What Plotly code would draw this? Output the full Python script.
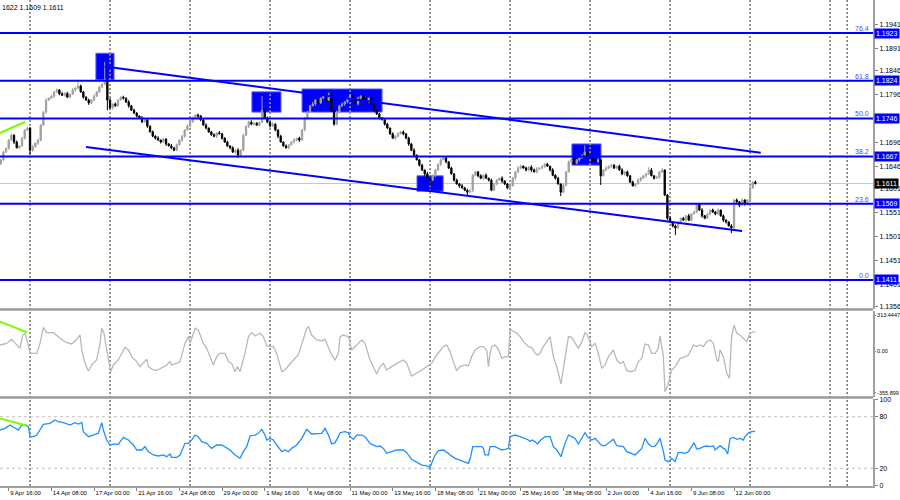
import plotly.graph_objects as go

# ---------------- data ----------------
# H4 closes, last four digits of price (1.xxxx), bars -3 .. 280
closes = [1660, 1676, 1684, 1701,
          1711, 1697, 1685, 1689, 1705, 1722, 1726, 1680, 1687, 1695, 1701,
          1732, 1759, 1784, 1788, 1792, 1801, 1805, 1797, 1794, 1798, 1790, 1796,
          1805, 1809, 1813, 1801, 1790, 1784, 1778, 1784, 1792, 1801, 1811, 1817,
          1826, 1784, 1768, 1776, 1772, 1784, 1790, 1788, 1780, 1772, 1763,
          1757, 1751, 1747, 1739, 1743, 1730, 1718, 1709, 1705, 1701, 1697, 1703,
          1693, 1689, 1685, 1680, 1691, 1701, 1709, 1722, 1730, 1739, 1747, 1753,
          1751, 1743, 1732, 1726, 1718, 1712, 1709, 1716, 1714, 1705, 1697, 1689,
          1685, 1676, 1680, 1670, 1680, 1711, 1730, 1738, 1734, 1736, 1732, 1738,
          1763, 1747, 1738, 1730, 1734, 1722, 1709, 1697, 1689, 1685, 1691,
          1697, 1701, 1705, 1701, 1722, 1747, 1759, 1772, 1776, 1784, 1778, 1788,
          1792, 1784, 1796, 1763, 1734, 1759, 1772, 1776, 1780, 1788, 1792, 1784,
          1776, 1788, 1792, 1784, 1780, 1788, 1776, 1763, 1755, 1747, 1743, 1734,
          1726, 1714, 1705, 1709, 1714, 1718, 1714, 1705, 1693, 1680, 1670, 1660,
          1649, 1639, 1631, 1622, 1618, 1627, 1639, 1651, 1660, 1664, 1656, 1643,
          1631, 1618, 1610, 1606, 1602, 1597, 1593, 1597, 1628, 1635, 1627, 1622,
          1628, 1622, 1618, 1597, 1610, 1618, 1622, 1616, 1610, 1602, 1606, 1622,
          1635, 1643, 1647, 1643, 1639, 1645, 1639, 1635, 1641, 1643, 1647, 1651,
          1647, 1639, 1628, 1622, 1610, 1593, 1608, 1635, 1656, 1660, 1653, 1660,
          1664, 1670, 1676, 1668, 1664, 1660, 1656, 1660, 1627, 1639, 1643, 1647,
          1649, 1643, 1647, 1639, 1631, 1635, 1627, 1614, 1606, 1610, 1618, 1622,
          1627, 1631, 1639, 1627, 1622, 1624, 1635, 1639, 1587, 1539,
          1531, 1523, 1519, 1531, 1539, 1535, 1544, 1535, 1548, 1552, 1568, 1556,
          1544, 1539, 1548, 1556, 1552, 1548, 1556, 1544, 1535, 1531, 1523, 1519,
          1577, 1573, 1566, 1577, 1568, 1577, 1602, 1614, 1611]
first_open = 1652
first_bar = -3

wick_up = "".join([
    "2312423132", "3241322413", "1324231422", "3123241312", "2413223142",
    "3214231324", "1322413231", "4231322412", "3142231324", "2313422131",
    "3242131322", "4132231423", "1324213232", "2431322413", "3122431324",
    "2313241231", "4232132413", "1324231322", "3241322142", "2132431324",
    "3412231423", "1323241322", "4231322413", "2134231324", "3122413231",
    "2413223142", "3214231324", "1322413231", "2313"])
wick_dn = "".join([
    "3213241223", "2132431322", "4231322143", "2314231322", "1342213241",
    "2313241232", "3241322143", "1322431322", "2413223142", "3124231322",
    "2313412231", "3241322142", "2132431324", "3212341322", "4231322142",
    "1324231324", "2313241322", "3142231423", "2413223142", "3214231324",
    "1322413231", "4231322412", "3142231324", "2313422131", "3242131322",
    "4132231423", "1324213232", "2431322413", "3122"])
high_spikes = {26: 1826, 36: 1863, 95: 1792, 216: 1690, 240: 1645, 245: 1643}
low_spikes = {8: 1670, 37: 1763, 86: 1664, 158: 1606, 172: 1587, 207: 1585,
              222: 1608, 250: 1504, 271: 1508}

date_labels = ['9 Apr 16:00', '14 Apr 08:00', '17 Apr 00:00', '21 Apr 16:00',
               '24 Apr 08:00', '29 Apr 00:00', '1 May 16:00', '6 May 08:00',
               '11 May 00:00', '13 May 16:00', '18 May 08:00', '21 May 00:00',
               '25 May 16:00', '28 May 08:00', '2 Jun 00:00', '4 Jun 16:00',
               '9 Jun 08:00', '12 Jun 00:00']
label_bars = [16 * k for k in range(len(date_labels))]

fib_levels = [1.1923, 1.1824, 1.1746, 1.1667, 1.1569, 1.1411]
fib_names = ['76.4', '61.8', '50.0', '38.2', '23.6', '0.0']
last_price = 1.1611

price_ticks = [1.1941, 1.1891, 1.1846, 1.1796, 1.1696, 1.1646, 1.1601,
               1.1551, 1.1501, 1.1451, 1.1401, 1.1356]

upper_bars = [36, 282]
upper_vals = [1.18535, 1.16748]
lower_bars = [29, 275]
lower_vals = [1.16867, 1.15125]
green_bars = [-3.3, 6.1]
green_price = [1.17157, 1.17385]
green_cci_bars = [-3.3, 6.9]
green_cci = [256, 165]
green_rsi_bars = [-3.3, 6.9]
green_rsi = [78.1, 69.5]

box_x0 = [32.7, 91.2, 110.0, 153.1, 211.2]
box_x1 = [39.5, 102.1, 140.0, 162.9, 222.1]
box_lo = [1.1826, 1.1759, 1.1759, 1.1595, 1.1649]
box_hi = [1.1881, 1.1801, 1.1807, 1.1627, 1.1693]

cci_bar = [-3.25, -0.75, 1.1, 2.4, 4.25, 5.25, 6.1, 7.0, 8.0, 10.5, 11.75, 13.0,
           14.25, 16.75, 19.25, 21.75, 23.6, 25.5, 26.75, 27.4, 28.6, 29.9, 31.1,
           33.0, 34.25, 34.9, 35.75, 36.75, 37.75, 38.25, 39.25, 41.1, 43.6, 44.9,
           46.1, 48.0, 49.25, 51.1, 51.75, 52.4, 54.25, 55.5, 58.0, 59.25, 60.5,
           61.1, 63.0, 64.25, 66.1, 67.4, 68.0, 69.9, 71.1, 73.0, 74.25, 76.1,
           76.75, 78.0, 79.25, 81.1, 82.4, 83.6, 84.9, 85.75, 86.75, 88.6, 89.9,
           91.1, 92.4, 94.25, 95.5, 96.75, 98.0, 99.25, 100.5, 102.4, 103.6, 105.5,
           106.75, 108.6, 109.9, 111.75, 112.4, 113.6, 115.5, 117.4, 118.6, 119.9,
           121.1, 122.4, 123.6, 124.25, 125.5, 127.4, 128.6, 130.5, 132.4, 133.6,
           135.5, 138.0, 139.25, 140.5, 141.75, 143.6, 145.5, 148.0, 149.25, 151.1,
           153.0, 154.9, 156.75, 158.6, 160.5, 163.0, 164.25, 165.5, 166.75, 168.0,
           169.25, 171.1, 172.4, 173.6, 174.9, 176.75, 178.0, 179.25, 179.9, 180.5,
           181.1, 182.4, 183.6, 184.9, 186.1, 187.4, 188.0, 189.25, 190.5, 191.75,
           193.0, 194.9, 196.1, 197.4, 198.25, 199.25, 200.5, 201.75, 203.0, 204.25,
           205.5, 207.1, 208.6, 209.9, 211.1, 212.4, 213.6, 214.9, 216.1, 217.0,
           218.0, 218.6, 219.9, 221.1, 222.4, 223.6, 224.9, 226.75, 228.0, 229.25,
           230.5, 231.75, 233.6, 234.9, 236.1, 237.4, 238.6, 239.9, 241.1, 242.4,
           243.6, 244.25, 245.5, 246.1, 247.4, 248.6, 249.9, 251.75, 253.0, 254.9,
           256.75, 258.0, 259.25, 260.5, 261.75, 263.0, 264.25, 265.5, 266.1,
           266.75, 268.0, 269.25, 270.25, 271.1, 272.0, 273.0, 274.25, 275.5,
           276.75, 278.0, 279.9]
cci_val = [55, 69, 104, 69, 26, 141, 156, 84, -17, -17, 69, 207,
           161, 161, 113, 75, 64, 104, 141, 12, -103, -169, -117,
           -74, 69, 199, 156, 12, -117, -175, -117, -74, 35, 12,
           -45, -88, -131, -88, -68, -131, -160, -166, -131, -117, -88,
           -117, -103, -88, 69, 127, 69, 199, 184, 69, 26, -74,
           -117, -45, -17, -17, -88, -103, -175, -131, -175, -17, 127,
           161, 133, 156, 127, 47, 41, 41, -17, -175, -160, -103,
           -74, -31, 69, 199, 213, 141, 98, 92, 104, 41,
           -31, -74, -17, 127, 141, 127, 12, 55, 98, 69,
           -74, -195, -131, -103, -160, -131, -103, -74, -103, -212,
           -189, -160, -131, -103, -31, 41, 55, -2, -88, -166,
           -131, -117, -126, -45, 12, 41, 41, 12, -131, -17,
           41, 55, 18, -60, -45, -45, 190, 170, 156, 127,
           84, 41, 35, -17, -31, -17, 41, 84, 127, -45,
           -131, -281, -74, 127, 121, 69, 26, 84, 161, 141,
           69, 41, 69, -17, -146, -117, -45, 12, -74, -103,
           -88, -166, -175, -160, -88, -60, 64, 55, -17, -17,
           26, 133, -45, -347, -275, -160, -131, -60, -54, -31,
           55, 41, 55, 41, 84, 98, 69, -74, -88,
           12, -45, -189, -232, 127, 227, 156, 141, 113,
           84, 161, 170]

rsi_bar = [-3.25, -1.4, 0.5, 2.4, 3.6, 4.9, 6.1, 7.4, 8.0, 9.25, 10.5, 13.0, 15.5,
           17.4, 18.6, 20.5, 23.0, 24.9, 26.1, 27.4, 28.0, 29.9, 31.75, 33.6, 34.9,
           35.5, 36.75, 38.0, 39.9, 41.1, 43.0, 44.9, 46.75, 48.0, 49.9, 51.1, 52.4,
           54.25, 56.1, 58.0, 59.25, 60.5, 61.1, 63.0, 64.25, 66.1, 67.4, 68.6,
           69.9, 71.1, 72.4, 74.25, 76.1, 78.0, 79.9, 81.75, 83.0, 84.9, 86.75,
           88.0, 89.25, 90.5, 92.4, 93.6, 94.9, 96.1, 96.75, 98.0, 99.25, 100.5,
           102.4, 103.6, 104.9, 106.1, 108.0, 109.9, 111.75, 113.6, 115.5, 117.4,
           118.6, 119.9, 121.1, 122.4, 123.6, 124.25, 126.1, 127.4, 128.0, 129.25,
           130.5, 132.4, 133.6, 135.5, 138.0, 139.25, 140.5, 141.75, 143.6, 145.5,
           148.0, 149.25, 151.1, 153.0, 154.9, 156.75, 158.0, 158.6, 159.9, 161.1,
           163.0, 164.9, 165.5, 167.4, 169.25, 171.1, 172.4, 173.25, 174.0, 175.5,
           177.4, 178.0, 178.6, 179.9, 180.5, 182.4, 183.6, 184.9, 186.1, 187.4,
           188.0, 189.9, 191.75, 193.6, 194.9, 195.5, 196.1, 197.4, 198.25, 199.5,
           201.1, 203.0, 204.25, 205.5, 207.1, 208.6, 209.9, 211.1, 212.4, 213.6,
           214.9, 216.1, 217.0, 218.0, 218.6, 219.9, 221.1, 222.4, 223.6, 224.9,
           226.75, 228.0, 229.25, 230.5, 231.75, 233.6, 234.9, 236.1, 237.4, 238.6,
           239.9, 241.1, 242.4, 243.6, 244.25, 245.5, 246.1, 247.4, 248.6, 249.9,
           251.1, 252.4, 253.6, 254.9, 256.1, 257.0, 258.0, 259.25, 260.5, 261.75,
           263.0, 264.25, 264.9, 266.1, 266.75, 268.0, 268.6, 269.6, 270.5, 271.75,
           273.0, 274.25, 275.5, 276.1, 277.4, 278.6, 279.9]
rsi_val = [64.5, 66.5, 70.3, 66.5, 64.5, 70.3, 71.1, 68.4, 56.8, 56.8, 58.7, 71.1, 72.3,
           76.2, 74.2, 73.1, 70.3, 73.1, 71.5, 73.4, 62.6, 56.8, 58.7, 60.7, 73.1,
           64.5, 52.9, 47.1, 48.3, 47.9, 56.0, 52.9, 47.1, 41.3, 41.3, 45.2, 39.3,
           35.5, 34.3, 35.5, 33.5, 36.6, 32.8, 32.8, 35.5, 49.0, 49.0, 52.9,
           58.7, 56.8, 51.0, 49.0, 43.2, 47.1, 47.1, 43.2, 41.3, 35.5, 31.6,
           39.3, 45.2, 57.6, 58.7, 60.7, 65.3, 58.7, 52.9, 54.8, 52.9, 47.1,
           39.3, 41.3, 39.3, 43.2, 47.1, 54.8, 65.3, 59.9, 60.7, 60.7,
           66.5, 58.7, 48.3, 49.8, 56.8, 61.4, 62.6, 61.4, 56.8, 53.7,
           58.7, 58.7, 56.8, 49.0, 45.2, 45.9, 43.2, 37.4, 39.3, 41.3,
           41.3, 38.2, 30.4, 26.6, 23.8, 22.7, 21.1, 25.8, 35.5, 40.5,
           41.3, 37.4, 35.5, 31.6, 29.7, 27.7, 25.8, 33.5, 45.2, 45.2,
           45.2, 43.2, 35.5, 35.5, 45.2, 45.2, 43.2, 41.3, 42.1, 43.2,
           56.8, 58.7, 56.8, 54.8, 52.9, 51.0, 52.9, 51.0, 48.3, 52.9,
           56.8, 56.8, 45.2, 41.3, 33.5, 49.0, 58.7, 56.8, 54.8, 48.3,
           54.8, 61.4, 56.8, 53.7, 52.9, 54.8, 51.0, 46.3, 46.3, 49.0,
           53.7, 46.3, 45.9, 45.2, 39.3, 36.6, 35.5, 39.3, 43.2, 54.8,
           48.3, 45.2, 45.9, 51.0, 54.8, 39.3, 29.7, 27.7, 31.6, 27.7,
           38.2, 38.2, 37.4, 39.3, 45.2, 49.8, 42.4, 43.2, 45.2, 45.9,
           45.2, 46.3, 41.3, 45.2, 46.3, 43.2, 42.4, 36.6, 54.8, 56.0,
           53.7, 54.8, 52.9, 56.8, 61.4, 62.6, 63.0]

cci_ticks = [313.4447, 0.0, -355.899]
cci_ticktext = ['313.4447', '0.00', '-355.899']
rsi_ticks = [100, 80, 20, 0]

grid_bars = [8 + 30 * k for k in range(25)] + [314.4]

# ---------------- build candles ----------------
n = min(len(closes), len(wick_up), len(wick_dn))
bars, o_l, h_l, l_l, c_l = [], [], [], [], []
prev = first_open
for i in range(n):
    b = first_bar + i
    c = closes[i]
    o = prev
    h = max(o, c) + int(wick_up[i])
    lo = min(o, c) - int(wick_dn[i])
    if b in high_spikes:
        h = max(h, high_spikes[b])
    if b in low_spikes:
        lo = min(lo, low_spikes[b])
    bars.append(b)
    o_l.append(1 + o / 10000)
    h_l.append(1 + h / 10000)
    l_l.append(1 + lo / 10000)
    c_l.append(1 + c / 10000)
    prev = c

BLUE = '#0000ff'
FONT = 'Liberation Sans'

fig = go.Figure()

fig.add_trace(go.Candlestick(
    x=bars, open=o_l, high=h_l, low=l_l, close=c_l,
    increasing=dict(line=dict(color='#a0a0a0', width=1), fillcolor='#a0a0a0'),
    decreasing=dict(line=dict(color='#000000', width=1), fillcolor='#000000'),
    whiskerwidth=0, showlegend=False, hoverinfo='skip', xaxis='x', yaxis='y'))

for xs, ys in ((upper_bars, upper_vals), (lower_bars, lower_vals)):
    fig.add_trace(go.Scatter(x=xs, y=ys, mode='lines', line=dict(color=BLUE, width=2),
                             showlegend=False, hoverinfo='skip', yaxis='y'))
fig.add_trace(go.Scatter(x=green_bars, y=green_price, mode='lines',
                         line=dict(color='#7cfc00', width=2), showlegend=False, yaxis='y'))

fig.add_trace(go.Scatter(x=cci_bar, y=cci_val, mode='lines',
                         line=dict(color='#b8b8b8', width=1.3), showlegend=False, yaxis='y2'))
fig.add_trace(go.Scatter(x=green_cci_bars, y=green_cci, mode='lines',
                         line=dict(color='#7cfc00', width=2), showlegend=False, yaxis='y2'))
fig.add_trace(go.Scatter(x=rsi_bar, y=rsi_val, mode='lines',
                         line=dict(color='#1e90ff', width=1.3), showlegend=False, yaxis='y3'))
fig.add_trace(go.Scatter(x=green_rsi_bars, y=green_rsi, mode='lines',
                         line=dict(color='#7cfc00', width=2), showlegend=False, yaxis='y3'))

shapes = []
# blue boxes (background)
for x0, x1, lo, hi in zip(box_x0, box_x1, box_lo, box_hi):
    shapes.append(dict(type='rect', xref='x', yref='y', x0=x0, x1=x1, y0=lo, y1=hi,
                       fillcolor=BLUE, line=dict(color='#6060ff', width=1), layer='below'))
# vertical dotted grid
for g in grid_bars:
    shapes.append(dict(type='line', xref='x', yref='paper', x0=g, x1=g, y0=0, y1=1,
                       line=dict(color='#303030', width=1, dash='2px,2px'), layer='below'))
# yellow grid segments inside boxes
for x0, x1, lo, hi in zip(box_x0, box_x1, box_lo, box_hi):
    for g in grid_bars:
        if x0 < g < x1:
            shapes.append(dict(type='line', xref='x', yref='y', x0=g, x1=g, y0=lo, y1=hi,
                               line=dict(color='#ffff00', width=1, dash='2px,2px'), layer='below'))
# current price line
shapes.append(dict(type='line', xref='paper', yref='y', x0=0, x1=1, y0=last_price, y1=last_price,
                   line=dict(color='#c8c8c8', width=1), layer='below'))
# fibo levels
for lv in fib_levels:
    shapes.append(dict(type='line', xref='paper', yref='y', x0=0, x1=1, y0=lv, y1=lv,
                       line=dict(color=BLUE, width=2), layer='above'))
# RSI 80/20
for lv in (80, 20):
    shapes.append(dict(type='line', xref='paper', yref='y3', x0=0, x1=1, y0=lv, y1=lv,
                       line=dict(color='#c0c0c0', width=1, dash='3px,3px'), layer='below'))
# panel separators
H = 486.0
for ypix in (309.5, 397.5):
    yp = 1 - ypix / H
    shapes.append(dict(type='line', xref='paper', yref='paper', x0=0, x1=1, y0=yp, y1=yp,
                       line=dict(color='#9a9a9a', width=2.5), layer='above'))

annotations = []
for lv, nm in zip(fib_levels, fib_names):
    annotations.append(dict(xref='paper', yref='y', x=0.998, y=lv, text=nm, showarrow=False,
                            xanchor='right', yanchor='bottom', yshift=-1,
                            font=dict(family=FONT, size=7, color='#4848ff')))
    annotations.append(dict(xref='paper', yref='y', x=1, y=lv, text='%.4f' % lv, showarrow=False,
                            xanchor='left', yanchor='middle', xshift=1, bgcolor=BLUE, borderpad=1,
                            font=dict(family=FONT, size=7, color='#ffffff')))
annotations.append(dict(xref='paper', yref='y', x=1, y=last_price, text='%.4f' % last_price,
                        showarrow=False, xanchor='left', yanchor='middle', xshift=1,
                        bgcolor='#000000', borderpad=1,
                        font=dict(family=FONT, size=7, color='#ffffff')))
annotations.append(dict(xref='paper', yref='paper', x=0, y=1, text='1622 1.1609 1.1611',
                        showarrow=False, xanchor='left', yanchor='top', yshift=-2,
                        font=dict(family=FONT, size=7, color='#000000')))

axis_common = dict(showgrid=False, zeroline=False, showline=True, linecolor='#a0a0a0',
                   linewidth=2, ticks='outside', tickcolor='#808080',
                   side='right', anchor='x', fixedrange=True, automargin=False)

fig.update_layout(
    width=900, height=500,
    margin=dict(l=0, r=27, t=0, b=14, autoexpand=False),
    paper_bgcolor='#ffffff', plot_bgcolor='#ffffff',
    showlegend=False,
    shapes=shapes, annotations=annotations,
    xaxis=dict(range=[-3.2625, 324.1], domain=[0, 1], anchor='y3',
               tickvals=label_bars, ticktext=date_labels, ticklabelposition='outside right',
               tickangle=0, automargin=False,
               ticks='outside', ticklen=3, tickcolor='#808080',
               tickfont=dict(family=FONT, size=6, color='#000000'),
               showgrid=False, zeroline=False, showline=True, linecolor='#a0a0a0', linewidth=2,
               rangeslider=dict(visible=False), fixedrange=True),
    yaxis=dict(domain=[1 - 308.5 / H, 1], range=[1.13519, 1.19914], ticklen=3,
               tickvals=price_ticks, ticktext=['%.4f' % t for t in price_ticks],
               tickfont=dict(family=FONT, size=7, color='#000000'), **axis_common),
    yaxis2=dict(domain=[1 - 396.5 / H, 1 - 310.5 / H], range=[-388.6, 352.2], ticklen=1,
                tickvals=cci_ticks, ticktext=cci_ticktext,
                tickfont=dict(family=FONT, size=5.5, color='#000000'), **axis_common),
    yaxis3=dict(domain=[0, 1 - 398.5 / H], range=[-0.6, 101.2], ticklen=3,
                tickvals=rsi_ticks, ticktext=[str(t) for t in rsi_ticks],
                tickfont=dict(family=FONT, size=7, color='#000000'), **axis_common),
)

fig.write_html("out.html")
